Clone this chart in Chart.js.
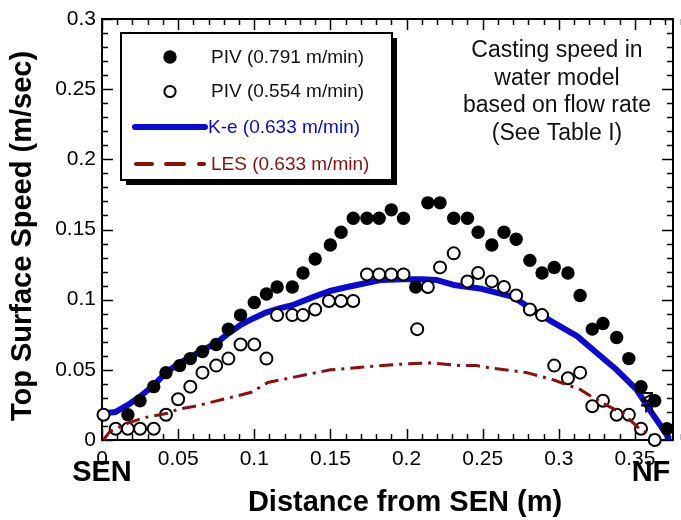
<!DOCTYPE html>
<html>
<head>
<meta charset="utf-8">
<script src="https://cdn.jsdelivr.net/npm/chart.js@4.4.1/dist/chart.umd.min.js"></script>
<style>
  html, body { margin: 0; padding: 0; background: #fff; }
  #wrap { width: 681px; height: 520px; }
</style>
</head>
<body>
<div id="wrap"><canvas id="c" width="681" height="520"></canvas></div>
<script>
// Measured top-surface speed, PIV at 0.791 m/min casting speed
const pivHighX = [0.017,0.025,0.034,0.042,0.051,0.058,0.066,0.075,0.083,0.091,0.100,0.108,0.115,0.125,0.132,
                  0.140,0.150,0.157,0.165,0.174,0.182,0.190,0.198,0.206,0.214,0.222,0.231,0.240,0.247,0.256,
                  0.264,0.272,0.281,0.289,0.297,0.306,0.314,0.322,0.329,0.338,0.346,0.354,0.363,0.371];
const pivHighY = [0.018,0.028,0.038,0.048,0.053,0.058,0.063,0.068,0.079,0.089,0.098,0.104,0.109,0.109,0.119,
                  0.129,0.139,0.148,0.158,0.158,0.158,0.164,0.158,0.109,0.169,0.169,0.158,0.158,0.148,0.139,
                  0.148,0.143,0.128,0.119,0.123,0.119,0.103,0.079,0.083,0.073,0.058,0.038,0.028,0.008];

// Measured top-surface speed, PIV at 0.554 m/min casting speed
const pivLowX = [0.001,0.009,0.017,0.025,0.034,0.042,0.050,0.058,0.066,0.075,0.083,0.091,0.100,0.108,0.115,
                 0.125,0.132,0.140,0.149,0.157,0.165,0.174,0.182,0.190,0.198,0.207,0.214,0.222,0.231,0.240,
                 0.247,0.256,0.264,0.272,0.281,0.289,0.297,0.306,0.314,0.322,0.329,0.338,0.346,0.354,0.363];
const pivLowY = [0.018,0.008,0.008,0.008,0.008,0.018,0.029,0.038,0.048,0.053,0.058,0.068,0.068,0.058,0.089,
                 0.089,0.089,0.093,0.099,0.099,0.099,0.118,0.118,0.118,0.118,0.079,0.109,0.123,0.133,0.113,
                 0.119,0.113,0.109,0.103,0.093,0.089,0.053,0.044,0.048,0.024,0.028,0.018,0.018,0.008,0.000];

// K-epsilon model prediction (0.633 m/min)
const keX = [0.001,0.009,0.017,0.025,0.034,0.042,0.051,0.058,0.066,0.075,0.083,0.091,0.100,0.108,0.117,0.125,
             0.139,0.149,0.161,0.183,0.198,0.210,0.220,0.231,0.248,0.270,0.281,0.296,0.312,0.325,0.338,
             0.351,0.360,0.367,0.372];
const keY = [0.019,0.020,0.025,0.031,0.039,0.048,0.055,0.059,0.064,0.069,0.076,0.082,0.087,0.091,0.094,0.096,
             0.102,0.106,0.109,0.114,0.1145,0.1145,0.114,0.1105,0.108,0.102,0.094,0.084,0.074,0.062,0.050,
             0.036,0.021,0.010,0.002];

// LES prediction (0.633 m/min)
const lesX = [0.001,0.005,0.017,0.028,0.043,0.050,0.061,0.072,0.087,0.098,0.109,0.127,0.150,0.172,0.196,0.215,
              0.237,0.246,0.257,0.279,0.296,0.314,0.329,0.342,0.353,0.360];
const lesY = [0.000,0.006,0.012,0.016,0.019,0.022,0.024,0.027,0.031,0.034,0.041,0.045,0.050,0.052,0.054,0.055,
              0.053,0.053,0.051,0.048,0.043,0.036,0.026,0.019,0.008,0.004];

// Axis ticks
const xTickValues = [0, 0.05, 0.1, 0.15, 0.2, 0.25, 0.3, 0.35];
const yTickValues = [0, 0.05, 0.1, 0.15, 0.2, 0.25, 0.3];
const xMinorStep = 0.01, yMinorStep = 0.01;

const FONT = "'Liberation Sans', Arial, Helvetica, sans-serif";
const pts = (xs, ys) => xs.map((x, i) => ({ x: x, y: ys[i] }));

const BLUE = '#0a0ad2';
const DARKRED = '#8b0f0f';

// Frame with inward major/minor ticks on all four sides
const framePlugin = {
  id: 'frame',
  beforeDatasetsDraw(chart) {
    const { ctx, chartArea: a, scales: { x, y } } = chart;
    ctx.save();
    ctx.strokeStyle = '#000';
    ctx.lineWidth = 1.5;
    const nx = Math.round(x.max / xMinorStep);
    for (let i = 0; i <= nx; i++) {
      const px = Math.round(x.getPixelForValue(i * xMinorStep)) + 0.5;
      const len = i % 5 === 0 ? 11 : 6;
      ctx.beginPath();
      ctx.moveTo(px, a.bottom); ctx.lineTo(px, a.bottom - len);
      ctx.moveTo(px, a.top); ctx.lineTo(px, a.top + len);
      ctx.stroke();
    }
    const ny = Math.round(y.max / yMinorStep);
    for (let i = 0; i <= ny; i++) {
      const py = Math.round(y.getPixelForValue(i * yMinorStep)) + 0.5;
      const len = i % 5 === 0 ? 11 : 6;
      ctx.beginPath();
      ctx.moveTo(a.left, py); ctx.lineTo(a.left + len, py);
      ctx.moveTo(a.right, py); ctx.lineTo(a.right - len, py);
      ctx.stroke();
    }
    ctx.lineWidth = 2;
    ctx.strokeRect(a.left, a.top, a.right - a.left, a.bottom - a.top);
    ctx.restore();
  }
};

// Legend box, note text and axis captions
const decorPlugin = {
  id: 'decor',
  afterDatasetsDraw(chart) {
    const { ctx, data } = chart;
    const ds = data.datasets;
    ctx.save();

    // legend box with drop shadow
    const bx = 121, by = 33, bw = 271, bh = 147;
    ctx.fillStyle = '#000';
    ctx.fillRect(bx + 5, by + 5, bw, bh);
    ctx.fillStyle = '#fff';
    ctx.fillRect(bx, by, bw, bh);
    ctx.lineWidth = 2;
    ctx.strokeStyle = '#000';
    ctx.strokeRect(bx, by, bw, bh);

    ctx.font = '19px ' + FONT;
    ctx.textBaseline = 'middle';
    ctx.textAlign = 'left';

    // filled marker
    ctx.beginPath(); ctx.arc(170, 57, 6.7, 0, Math.PI * 2);
    ctx.fillStyle = ds[0].backgroundColor; ctx.fill();
    ctx.fillStyle = '#111'; ctx.fillText(ds[0].label, 211, 58);

    // open marker
    ctx.beginPath(); ctx.arc(170, 91.5, 5.6, 0, Math.PI * 2);
    ctx.fillStyle = '#fff'; ctx.fill();
    ctx.lineWidth = 2; ctx.strokeStyle = '#000'; ctx.stroke();
    ctx.fillStyle = '#111'; ctx.fillText(ds[1].label, 211, 92);

    // K-e line
    ctx.beginPath(); ctx.moveTo(135, 127); ctx.lineTo(205, 127);
    ctx.lineWidth = 6; ctx.lineCap = 'round'; ctx.strokeStyle = ds[2].borderColor; ctx.stroke();
    ctx.fillStyle = ds[2].borderColor; ctx.fillText(ds[2].label, 208, 128);

    // LES dashed line
    ctx.lineWidth = 4; ctx.lineCap = 'round'; ctx.strokeStyle = ds[3].borderColor;
    [[136, 152], [166, 184], [199, 204]].forEach(([a, b]) => {
      ctx.beginPath(); ctx.moveTo(a, 164); ctx.lineTo(b, 164); ctx.stroke();
    });
    ctx.fillStyle = ds[3].borderColor; ctx.fillText(ds[3].label, 211, 165);

    // note
    ctx.fillStyle = '#111';
    ctx.font = '23px ' + FONT;
    ctx.textAlign = 'center';
    ['Casting speed in', 'water model', 'based on flow rate', '(See Table I)']
      .forEach((t, i) => ctx.fillText(t, 557, 51 + i * 27.5));

    // axis captions
    ctx.fillStyle = '#000';
    ctx.font = 'bold 29px ' + FONT;
    ctx.textAlign = 'center';
    ctx.fillText('Distance from SEN (m)', 405, 503);
    ctx.fillText('SEN', 102, 473);
    ctx.fillText('NF', 651, 473);

    ctx.save();
    ctx.translate(23, 236);
    ctx.rotate(-Math.PI / 2);
    ctx.fillText('Top Surface Speed (m/sec)', 0, 0);
    ctx.restore();

    ctx.save();
    ctx.font = 'bold 17px ' + FONT;
    ctx.translate(646, 402);
    ctx.rotate(Math.PI / 2);
    ctx.fillText('NF', 0, 0);
    ctx.restore();

    ctx.restore();
  }
};

const fmt = v => (Math.abs(v) < 1e-9 ? '0' : String(+v.toFixed(3)));

new Chart(document.getElementById('c'), {
  type: 'scatter',
  data: {
    datasets: [
      {
        label: 'PIV (0.791 m/min)',
        data: pts(pivHighX, pivHighY),
        showLine: false,
        pointRadius: 6.7,
        pointBorderWidth: 0,
        backgroundColor: '#000',
        borderColor: '#000',
        clip: false,
        order: 1
      },
      {
        label: 'PIV (0.554 m/min)',
        data: pts(pivLowX, pivLowY),
        showLine: false,
        pointRadius: 6,
        pointBorderWidth: 2,
        backgroundColor: '#fff',
        borderColor: '#000',
        clip: false,
        order: 2
      },
      {
        label: 'K-e (0.633 m/min)',
        data: pts(keX, keY),
        showLine: true,
        pointRadius: 0,
        borderColor: BLUE,
        backgroundColor: BLUE,
        borderWidth: 6,
        borderCapStyle: 'round',
        borderJoinStyle: 'round',
        tension: 0,
        clip: false,
        order: 3
      },
      {
        label: 'LES (0.633 m/min)',
        data: pts(lesX, lesY),
        showLine: true,
        pointRadius: 0,
        borderColor: DARKRED,
        backgroundColor: DARKRED,
        borderWidth: 3,
        borderDash: [14, 6, 3, 6],
        tension: 0,
        clip: false,
        order: 0
      }
    ]
  },
  options: {
    responsive: false,
    animation: false,
    events: [],
    layout: { padding: { top: 19, right: 8, left: 0, bottom: 0 } },
    plugins: { legend: { display: false }, tooltip: { enabled: false } },
    scales: {
      x: {
        type: 'linear',
        min: 0,
        max: 0.375,
        afterBuildTicks: s => { s.ticks = xTickValues.map(v => ({ value: v })); },
        afterFit: s => { s.height = 80; },
        grid: { display: false, drawTicks: false },
        border: { display: false },
        ticks: {
          font: { family: FONT, size: 21 },
          color: '#000',
          padding: 7,
          maxRotation: 0,
          autoSkip: false,
          callback: v => fmt(v)
        }
      },
      y: {
        type: 'linear',
        min: 0,
        max: 0.3,
        afterBuildTicks: s => { s.ticks = yTickValues.map(v => ({ value: v })); },
        afterFit: s => { s.width = 102; },
        grid: { display: false, drawTicks: false },
        border: { display: false },
        ticks: {
          font: { family: FONT, size: 21 },
          color: '#000',
          padding: 6,
          autoSkip: false,
          callback: v => fmt(v)
        }
      }
    }
  },
  plugins: [framePlugin, decorPlugin]
});
</script>
</body>
</html>
